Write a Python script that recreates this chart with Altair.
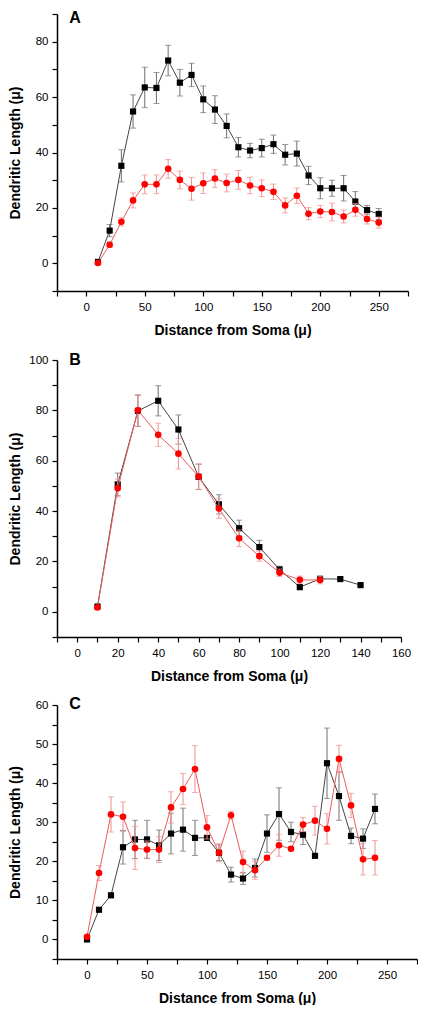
import altair as alt
import pandas as pd

# ---------------- data ----------------
A_x = [10, 20, 30, 40, 50, 60, 70, 80, 90, 100, 110, 120, 130, 140, 150, 160, 170, 180, 190, 200, 210, 220, 230, 240, 250]
A_black = [0.5, 11.8, 35.2, 54.8, 63.5, 63.3, 73.2, 65.2, 68.0, 59.2, 55.5, 49.6, 41.9, 40.7, 41.6, 43.0, 39.2, 39.6, 31.7, 27.1, 27.1, 27.1, 22.3, 19.2, 17.8]
A_black_err = [0.5, 2.2, 5.8, 6.0, 7.3, 5.6, 5.5, 4.8, 4.2, 4.8, 5.0, 4.3, 3.5, 2.6, 3.2, 3.3, 3.7, 4.5, 3.3, 3.8, 2.9, 4.6, 3.6, 1.7, 2.0]
A_red = [0.1, 6.7, 15.0, 22.7, 28.5, 28.5, 34.1, 30.1, 26.9, 28.9, 30.6, 29.0, 30.1, 28.1, 27.1, 25.8, 20.9, 24.4, 17.9, 18.7, 18.5, 16.9, 19.3, 16.0, 14.7]
A_red_err = [0.5, 1.0, 1.5, 2.7, 3.4, 3.4, 3.4, 3.2, 4.1, 3.7, 3.2, 3.2, 3.4, 3.0, 3.0, 2.8, 2.7, 2.8, 2.2, 2.2, 3.2, 2.3, 2.3, 1.8, 2.0]

B_black_x = [10, 20, 30, 40, 50, 60, 70, 80, 90, 100, 110, 120, 130, 140]
B_black = [2.1, 50.6, 79.8, 83.8, 72.4, 53.6, 42.7, 33.2, 25.7, 16.8, 9.8, 13.1, 13.0, 10.6]
B_black_err = [0.5, 4.5, 6.2, 6.0, 5.8, 5.0, 3.8, 3.2, 2.7, 1.3, 1.0, 1.0, 0.5, 0.5]
B_red_x = [10, 20, 30, 40, 50, 60, 70, 80, 90, 100, 110, 120]
B_red = [1.7, 49.1, 80.0, 70.3, 62.8, 53.7, 41.0, 29.2, 22.1, 15.5, 12.7, 12.6]
B_red_err = [0.5, 3.5, 6.3, 4.6, 6.1, 5.1, 3.9, 3.3, 2.0, 1.5, 1.5, 1.5]

C_x = [0, 10, 20, 30, 40, 50, 60, 70, 80, 90, 100, 110, 120, 130, 140, 150, 160, 170, 180, 190, 200, 210, 220, 230, 240]
C_black = [0.0, 7.6, 11.3, 23.6, 25.6, 25.6, 24.1, 27.1, 28.1, 26.0, 26.0, 22.2, 16.6, 15.6, 18.3, 27.1, 32.1, 27.5, 26.8, 21.4, 45.1, 36.7, 26.5, 25.8, 33.4]
C_black_err = [0, 0, 0, 4.3, 4.9, 4.9, 3.9, 5.2, 5.5, 4.5, 0.5, 2.0, 1.9, 1.5, 2.3, 4.8, 6.7, 2.5, 2.5, 0, 9.0, 6.2, 2.0, 2.5, 3.8]
C_red = [0.7, 17.0, 32.0, 31.4, 23.4, 23.0, 23.0, 33.8, 38.5, 43.6, 28.7, 22.2, 31.8, 19.8, 17.7, 20.9, 24.1, 23.2, 29.4, 30.4, 28.3, 46.2, 34.3, 20.5, 20.9]
C_red_err = [0, 1.9, 4.5, 3.8, 5.5, 2.2, 3.3, 4.0, 4.0, 6.0, 3.0, 2.3, 1.0, 2.8, 2.3, 0.5, 2.8, 0.5, 1.8, 3.7, 3.9, 3.5, 3.1, 4.0, 4.4]

X_TITLE = "Distance from Soma (\u03bc)"
Y_TITLE = "Dendritic Length (\u03bc)"

FONT = "Liberation Sans"
BLACK_LINE = "#444444"
BLACK_ERR = "#6e6e6e"
RED = "#ff0000"
RED_LINE = "#f05a5a"
RED_ERR = "#f28c8c"


def frame(xs, ys, es):
    df = pd.DataFrame({"x": xs, "y": ys, "e": es})
    df["lo"] = df["y"] - df["e"]
    df["hi"] = df["y"] + df["e"]
    return df


def panel(letter, bx, by, be, rx, ry, re, xdom, xstep, xlab, ydom, ystep, ylab,
          width, height, letter_y):
    xvals = list(range(xdom[0], xdom[1] + 1, xstep))
    yvals = list(range(ydom[0], ydom[1] + 1, ystep))
    xscale = alt.Scale(domain=xdom, nice=False, zero=False)
    yscale = alt.Scale(domain=ydom, nice=False, zero=False)
    xaxis = alt.Axis(
        values=xvals, title=X_TITLE, format="d",
        labelExpr=f"(datum.value >= 0 && (datum.value % {xlab}) == 0) ? format(datum.value, 'd') : ''",
        titleY=39, titleBaseline="middle",
    )
    yaxis = alt.Axis(
        values=yvals, title=Y_TITLE, format="d",
        labelExpr=f"(datum.value >= 0 && (datum.value % {ylab}) == 0) ? format(datum.value, 'd') : ''",
        titleX=-42, titleY=height / 2, titleAngle=270, titleAlign="center",
        titleBaseline="middle",
    )
    dfb = frame(bx, by, be)
    dfr = frame(rx, ry, re)
    dfb_e = dfb[dfb["e"] > 0]
    dfr_e = dfr[dfr["e"] > 0]

    X = alt.X("x:Q", scale=xscale, axis=xaxis)
    Y = alt.Y("y:Q", scale=yscale, axis=yaxis)

    def errs(df, color):
        rule = alt.Chart(df).mark_rule(color=color, strokeWidth=1).encode(
            x=X, y=alt.Y("lo:Q", scale=yscale, axis=yaxis), y2="hi:Q")
        cap_lo = alt.Chart(df).mark_tick(color=color, orient="horizontal", size=6, thickness=1).encode(
            x=X, y=alt.Y("lo:Q", scale=yscale, axis=yaxis))
        cap_hi = alt.Chart(df).mark_tick(color=color, orient="horizontal", size=6, thickness=1).encode(
            x=X, y=alt.Y("hi:Q", scale=yscale, axis=yaxis))
        return [rule, cap_lo, cap_hi]

    layers = []
    layers.append(alt.Chart(dfb).mark_line(color=BLACK_LINE, strokeWidth=1).encode(x=X, y=Y))
    layers += errs(dfb_e, BLACK_ERR)
    layers.append(alt.Chart(dfb).mark_square(color="black", size=38, opacity=1).encode(x=X, y=Y))
    layers.append(alt.Chart(dfr).mark_line(color=RED_LINE, strokeWidth=1).encode(x=X, y=Y))
    layers += errs(dfr_e, RED_ERR)
    layers.append(alt.Chart(dfr).mark_circle(color=RED, size=44, opacity=1).encode(x=X, y=Y))
    layers.append(
        alt.Chart(pd.DataFrame({"t": [letter]})).mark_text(
            font=FONT, fontWeight="bold", fontSize=16, color="black",
            align="center", baseline="middle").encode(
            text="t:N", x=alt.value(18), y=alt.value(letter_y))
    )
    return alt.layer(*layers).properties(width=width, height=height)


pA = panel("A", A_x, A_black, A_black_err, A_x, A_red, A_red_err,
           [-25, 275], 25, 50, [-10, 90], 10, 20, 351, 277, 3.5)
pB = panel("B", B_black_x, B_black, B_black_err, B_red_x, B_red, B_red_err,
           [-10, 160], 10, 20, [-10, 100], 10, 20, 344, 277, 0)
pC = panel("C", C_x, C_black, C_black_err, C_x, C_red, C_red_err,
           [-25, 275], 25, 50, [-5, 60], 5, 10, 360, 254, -1.5)

top = alt.vconcat(pA, pB, spacing=15)
chart = alt.vconcat(top, pC, spacing=12).properties(
    padding={"left": 0, "top": 0, "right": 0, "bottom": 0}
).configure_view(stroke=None).configure_axis(
    grid=False,
    domainColor="black", domainWidth=1.5,
    tickColor="black", tickWidth=1.2, tickSize=5,
    labelFont=FONT, labelFontSize=11.5, labelColor="black", labelPadding=4,
    labelOverlap=False, labelFlush=False,
    titleFont=FONT, titleFontSize=14, titleFontWeight="bold", titleColor="black",
).configure_axisX(labelPadding=5)

chart.save("out.html", embed_options={"renderer": "svg", "actions": False})
